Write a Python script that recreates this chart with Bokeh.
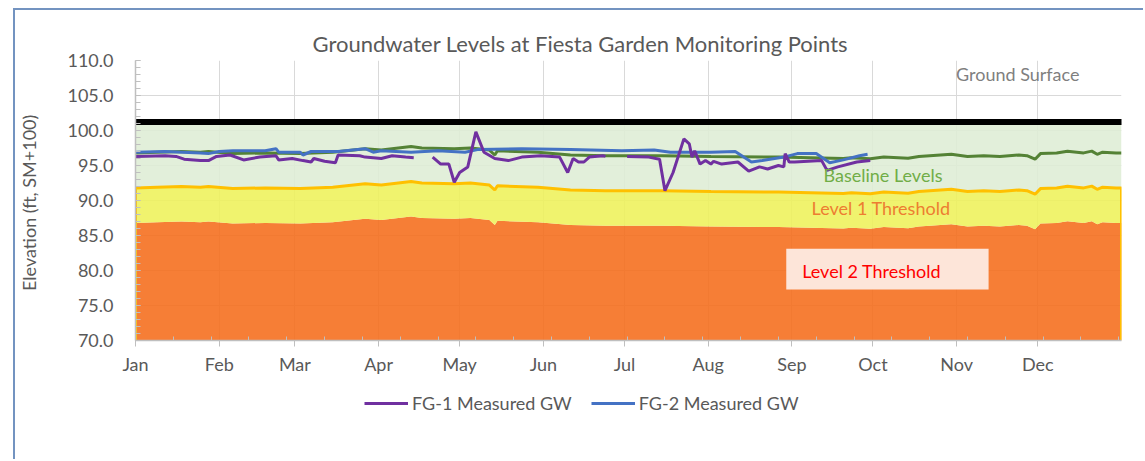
from bokeh.plotting import figure
from bokeh.layouts import column
from bokeh.models import (Range1d, FixedTicker, Legend, LegendItem, Label,
                          BoxAnnotation, NumeralTickFormatter)
from bokeh.embed import file_html
from bokeh.resources import INLINE

nan = float("nan")

# ---------------- data (day of year, elevation ft SM+100) ----------------
month_starts = [0, 31, 59, 90, 120, 151, 181, 212, 243, 273, 304, 334]
month_labels = ["Jan", "Feb", "Mar", "Apr", "May", "Jun",
                "Jul", "Aug", "Sep", "Oct", "Nov", "Dec"]

ground_days = [0, 365]
ground_level = [101.2, 101.2]

base_days = [0, 8, 17, 24, 27, 36, 48, 61, 73, 85, 91, 102, 106, 118, 124, 131,
             133, 134, 149, 161, 174, 182, 195, 213, 238, 262, 265, 272, 277,
             286, 290, 302, 308, 314, 320, 327, 330, 333, 335, 341, 345, 351,
             354, 356, 358, 363, 365]
baseline = [96.8, 96.9, 97.0, 96.9, 97.0, 96.7, 96.8, 96.7, 96.9, 97.4, 97.2,
            97.7, 97.5, 97.4, 97.5, 97.2, 96.5, 97.1, 96.9, 96.5, 96.4, 96.4,
            96.4, 96.3, 96.2, 96.0, 96.1, 95.95, 96.2, 96.05, 96.3, 96.6, 96.3,
            96.4, 96.3, 96.5, 96.4, 95.9, 96.7, 96.8, 97.05, 96.8, 97.05, 96.6,
            96.9, 96.8, 96.8]
level1 = [91.8, 91.9, 92.0, 91.9, 92.0, 91.7, 91.8, 91.7, 91.9, 92.4, 92.2,
          92.7, 92.5, 92.4, 92.5, 92.2, 91.5, 92.1, 91.9, 91.5, 91.4, 91.4,
          91.4, 91.3, 91.2, 91.0, 91.1, 90.95, 91.2, 91.05, 91.3, 91.6, 91.3,
          91.4, 91.3, 91.5, 91.4, 90.9, 91.7, 91.8, 92.05, 91.8, 92.05, 91.6,
          91.9, 91.8, 91.8]
level2 = [86.8, 86.9, 87.0, 86.9, 87.0, 86.7, 86.8, 86.7, 86.9, 87.4, 87.2,
          87.7, 87.5, 87.4, 87.5, 87.2, 86.5, 87.1, 86.9, 86.5, 86.4, 86.4,
          86.4, 86.3, 86.2, 86.0, 86.1, 85.95, 86.2, 86.05, 86.3, 86.6, 86.3,
          86.4, 86.3, 86.5, 86.4, 85.9, 86.7, 86.8, 87.05, 86.8, 87.05, 86.6,
          86.9, 86.8, 86.8]

fg2_days = [0, 11, 24, 27, 31, 36, 48, 52, 53, 61, 62, 65, 75, 85, 88, 91, 102,
            112, 122, 127, 143, 161, 180, 192, 198, 213, 222, 228, 232, 240,
            245, 252, 257, 262, 268, 271]
fg2 = [96.9, 97.0, 96.8, 96.7, 97.0, 97.1, 97.1, 97.4, 96.9, 96.9, 96.5, 97.0,
       97.0, 97.4, 96.9, 97.1, 96.9, 97.1, 96.9, 97.3, 97.4, 97.3, 97.1, 97.2,
       96.9, 96.9, 97.0, 95.5, 95.7, 96.2, 96.7, 96.7, 95.4, 95.8, 96.4, 96.6]

fg1_days = [0, 11, 15, 18, 24, 27, 30, 35, 40, 46, 52, 53, 58, 62, 65, 66, 70,
            74, 75, 83, 85, 91, 95, 100, 103, 106,
            110, 113, 116, 118, 120, 123, 126, 129, 133, 138, 143, 150, 157,
            160, 162, 164, 166, 168, 173, 174, 178,
            182, 190, 194, 196, 199, 203, 205, 206, 207, 209, 211, 213, 214,
            217, 223, 227, 231, 234, 238, 240, 240.5, 242, 244, 254, 256, 260,
            267, 272]
fg1 = [96.3, 96.4, 96.3, 95.9, 95.7, 95.7, 96.3, 96.5, 95.8, 96.2, 96.4, 95.8,
       96.0, 95.7, 95.5, 96.0, 95.6, 95.4, 96.5, 96.4, 96.2, 96.0, 96.4, 96.2,
       96.1, nan,
       96.2, 95.2, 95.2, 92.6, 94.0, 94.8, 99.8, 96.9, 96.0, 95.7, 96.2, 96.4,
       96.2, 94.0, 96.0, 95.5, 95.5, 96.2, 96.4, 96.3, nan,
       96.3, 96.2, 95.9, 91.4, 94.0, 98.8, 98.1, 96.2, 97.1, 95.2, 95.7, 95.2,
       95.6, 95.2, 95.5, 94.2, 94.8, 94.5, 95.0, 94.8, 96.7, 95.5, 95.5, 95.7,
       94.3, 94.8, 95.5, 95.7]

Y_MIN, Y_MAX = 70, 110

FONT = "Lato"
GRAY = "#595959"
FS = "18px"
PURPLE, BLUE, GREEN = "#7030a0", "#4472c4", "#548235"

# ---------------- main figure ----------------
p = figure(width=1128, height=375, output_backend="svg", toolbar_location=None,
           x_range=Range1d(0, 365), y_range=Range1d(Y_MIN, Y_MAX),
           min_border_left=118, min_border_right=22, min_border_top=50,
           min_border_bottom=45,
           title="Groundwater Levels at Fiesta Garden Monitoring Points")
p.outline_line_color = None
p.background_fill_color = "white"
p.border_fill_color = "white"
p.title.align = "left"
p.title.offset = 177
p.title.standoff = 8
p.title.text_font = FONT
p.title.text_font_size = "22px"
p.title.text_font_style = "normal"
p.title.text_color = GRAY

# axes
p.xaxis.ticker = FixedTicker(ticks=month_starts, minor_ticks=list(range(0, 366, 14)))
p.xaxis.major_label_overrides = {d: m for d, m in zip(month_starts, month_labels)}
p.yaxis.ticker = FixedTicker(ticks=list(range(Y_MIN, Y_MAX + 1, 5)),
                             minor_ticks=list(range(Y_MIN, Y_MAX + 1)))
p.yaxis.formatter = NumeralTickFormatter(format="0.0")
for ax in (p.xaxis[0], p.yaxis[0]):
    ax.axis_line_color = "#bfbfbf"
    ax.axis_line_width = 1.5
    ax.major_tick_line_color = "#bfbfbf"
    ax.minor_tick_line_color = "#bfbfbf"
    ax.major_label_text_font = FONT
    ax.major_label_text_font_size = FS
    ax.major_label_text_color = GRAY
p.xaxis.major_tick_in = 0
p.xaxis.major_tick_out = 6
p.xaxis.minor_tick_in = 4
p.xaxis.minor_tick_out = 0
p.xaxis.major_label_standoff = 6
p.yaxis.major_tick_in = 5
p.yaxis.major_tick_out = 0
p.yaxis.minor_tick_in = 5
p.yaxis.minor_tick_out = 0
p.yaxis.major_label_standoff = 22
p.yaxis.axis_label = "Elevation  (ft, SM+100)"
p.yaxis.axis_label_text_font = FONT
p.yaxis.axis_label_text_font_size = FS
p.yaxis.axis_label_text_font_style = "normal"
p.yaxis.axis_label_text_color = GRAY
p.yaxis.axis_label_standoff = 24

p.xgrid.grid_line_color = "#d9d9d9"
p.ygrid.grid_line_color = "#d9d9d9"

# ---------------- zones ----------------
p.varea(x=base_days, y1=Y_MIN, y2=level2, fill_color="#f56c1a", fill_alpha=0.88)
p.varea(x=base_days, y1=level2, y2=level1, fill_color="#eef15a", fill_alpha=0.88)
p.varea(x=base_days, y1=level1, y2=ground_level[0], fill_color="#deedd5", fill_alpha=0.88)

outline_x = [base_days[0]] + base_days + [base_days[-1]]
outline_y = [Y_MIN] + level1 + [Y_MIN]
p.line(outline_x, outline_y, line_color="#ffc000", line_width=3)

p.line(ground_days, ground_level, line_color="black", line_width=6, line_cap="round")

p.line(base_days, baseline, line_color=GREEN, line_width=3)
p.line(fg2_days, fg2, line_color=BLUE, line_width=3)
p.line(fg1_days, fg1, line_color=PURPLE, line_width=3)

# ---------------- annotations ----------------
p.add_layout(BoxAnnotation(left=240.9, right=315.8, bottom=77.3, top=83.1,
                           fill_color="#fde5d9", fill_alpha=1.0, line_alpha=0))
p.add_layout(Label(x=246.8, y=79.9, text="Level 2 Threshold", text_align="left",
                   text_baseline="middle", text_font=FONT, text_font_size=FS,
                   text_color="#ff0000"))
p.add_layout(Label(x=276.0, y=89.0, text="Level 1 Threshold", text_align="center",
                   text_baseline="middle", text_font=FONT, text_font_size=FS,
                   text_color="#ed7d31"))
p.add_layout(Label(x=276.7, y=93.7, text="Baseline Levels", text_align="center",
                   text_baseline="middle", text_font=FONT, text_font_size=FS,
                   text_color="#70ad47"))
p.add_layout(Label(x=326.6, y=108.1, text="Ground Surface", text_align="center",
                   text_baseline="middle", text_font=FONT, text_font_size=FS,
                   text_color="#7f7f7f"))

# ---------------- legend strip ----------------
lg = figure(width=1128, height=74, output_backend="svg", toolbar_location=None,
            x_range=Range1d(0, 1), y_range=Range1d(0, 1),
            x_axis_location=None, y_axis_location=None,
            min_border_left=0, min_border_right=0, min_border_top=0,
            min_border_bottom=0)
lg.outline_line_color = None
lg.grid.visible = False
# series re-drawn outside this strip's view, only to feed the legend swatches
k1 = lg.line(fg1_days, fg1, line_color=PURPLE, line_width=3)
k2 = lg.line(fg2_days, fg2, line_color=BLUE, line_width=3)
legend = Legend(items=[LegendItem(label="FG-1 Measured GW", renderers=[k1]),
                       LegendItem(label="FG-2 Measured GW", renderers=[k2])],
                orientation="horizontal", location=(229, 45),
                glyph_width=44, glyph_height=20, label_standoff=4, spacing=19,
                padding=0, margin=0, border_line_color=None,
                background_fill_alpha=0, label_text_font=FONT,
                label_text_font_size=FS, label_text_color=GRAY)
lg.add_layout(legend)

page = column(p, lg, spacing=0,
              styles={"margin-left": "13px", "margin-top": "8px",
                      "border-left": "2px solid #7393c0",
                      "border-top": "2px solid #7393c0"})

open("out.html", "w").write(file_html(page, INLINE))
